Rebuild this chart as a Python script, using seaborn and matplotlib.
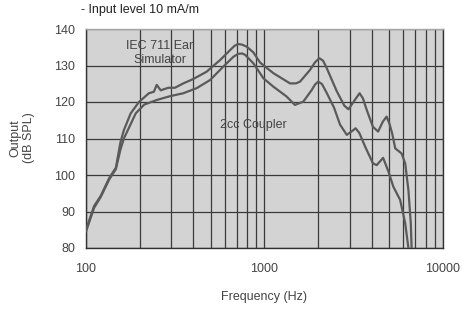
import numpy as np
import pandas as pd
import seaborn as sns
import matplotlib
matplotlib.use("Agg")
import matplotlib.pyplot as plt
from matplotlib.ticker import LogLocator, NullFormatter

# Frequency response
freq_iec = [100, 111, 121, 135, 147, 156, 163, 178, 198, 225, 240, 249, 262, 289, 315, 351,
            399, 474, 564, 641, 680, 713, 750, 793, 866, 945, 1121, 1390, 1500, 1583, 1800,
            1920, 2030, 2130, 2236, 2537, 2800, 2955, 3200, 3410, 3560, 3740, 4050, 4330,
            4600, 4830, 5000, 5190, 5400, 5860, 6140, 6400, 6600, 6670]
spl_iec = [85, 91.5, 94.3, 99.2, 102, 109, 112.3, 116.9, 120, 122.4, 122.8, 124.7, 123.2, 123.9,
           123.9, 125.1, 126.3, 128.3, 131.5, 134.2, 135.4, 135.9, 135.7, 135.2, 133.6, 130.8,
           127.9, 125.1, 125.1, 125.6, 128.8, 130.9, 132.0, 131.3, 129.2, 123.0, 119.0, 118.0,
           120.5, 122.4, 121.0, 117.8, 113.2, 111.9, 114.6, 116.0, 114.2, 111.4, 107.3, 105.9,
           103.2, 95.9, 86.8, 80]

freq_2cc = [100, 111, 121, 135, 147, 156, 163, 190, 212, 251, 296, 351, 417, 495, 588, 670,
            713, 750, 780, 866, 986, 1121, 1330, 1480, 1650, 1840, 1920, 2000, 2100, 2236,
            2450, 2650, 2890, 3050, 3240, 3400, 3660, 4050, 4250, 4450, 4620, 4950, 5270,
            5750, 6140, 6400]
spl_2cc = [84.5, 91, 94, 98.8, 101.6, 107, 110, 116.9, 119.3, 120.6, 121.6, 122.4, 123.8, 126,
           129.7, 132.4, 133.2, 133.3, 132.9, 130.6, 126.5, 124.2, 121.5, 119.2, 120.1, 123.3,
           124.8, 125.6, 124.9, 122.4, 118.5, 113.8, 111.0, 111.8, 112.8, 111.5, 107.8, 103.2,
           102.7, 103.8, 104.7, 100.9, 96.8, 93.2, 86.8, 80]

x_ticks = [100, 1000, 10000]
x_labels = ["100", "1000", "10000"]
y_ticks = [80, 90, 100, 110, 120, 130, 140]

sns.set_style("white", {"axes.facecolor": "#d3d3d4"})
plt.rcParams["font.family"] = ["Liberation Sans", "DejaVu Sans"]
plt.rcParams["font.size"] = 9

text_col = "#444444"
grid_col = "#3a3a3a"
line_col = "#5a5a5a"

fig = plt.figure(figsize=(4.64, 3.09), dpi=100)
ax = fig.add_axes([86 / 464, 1 - 248 / 309, 357 / 464, 219 / 309])

sns.lineplot(x=freq_iec, y=spl_iec, ax=ax, color=line_col, linewidth=1.6, sort=False, zorder=3)
sns.lineplot(x=freq_2cc, y=spl_2cc, ax=ax, color=line_col, linewidth=1.6, sort=False, zorder=3)

ax.set_xscale("log")
ax.set_xlim(100, 10000)
ax.set_ylim(80, 140)
ax.set_xticks(x_ticks)
ax.set_xticklabels(x_labels)
ax.xaxis.set_minor_locator(LogLocator(base=10, subs=np.arange(2, 10)))
ax.xaxis.set_minor_formatter(NullFormatter())
ax.set_yticks(y_ticks)

ax.grid(True, which="both", axis="x", color=grid_col, linewidth=0.9)
ax.grid(True, which="major", axis="y", color=grid_col, linewidth=0.9)
ax.set_axisbelow(True)

ax.tick_params(axis="x", which="both", length=0, pad=11, labelcolor=text_col, labelsize=9)
ax.tick_params(axis="y", length=0, pad=8, labelcolor=text_col, labelsize=9)

for side in ["left", "bottom", "right"]:
    ax.spines[side].set_color("#333333")
    ax.spines[side].set_linewidth(1.0)
ax.spines["top"].set_color("#a8a8a8")
ax.spines["top"].set_linewidth(1.0)

ax.set_xlabel("")
ax.set_ylabel("")

ax.text(260, 133.4, "IEC 711 Ear\nSimulator", ha="center", va="center",
        color=text_col, fontsize=9, linespacing=1.3, zorder=4)
ax.text(868, 113.7, "2cc Coupler", ha="center", va="center", color=text_col, fontsize=9, zorder=4)

fig.text(22 / 464, 1 - 138 / 309, "Output\n(dB SPL)", rotation=90, ha="center", va="center",
         color=text_col, fontsize=9, linespacing=1.2)
fig.text(264 / 464, 1 - 297 / 309, "Frequency (Hz)", ha="center", va="center",
         color=text_col, fontsize=9)
fig.text(81 / 464, 1 - 10 / 309, "- Input level 10 mA/m", ha="left", va="center",
         color="#222222", fontsize=9)

fig.savefig("out.png", dpi=100)
